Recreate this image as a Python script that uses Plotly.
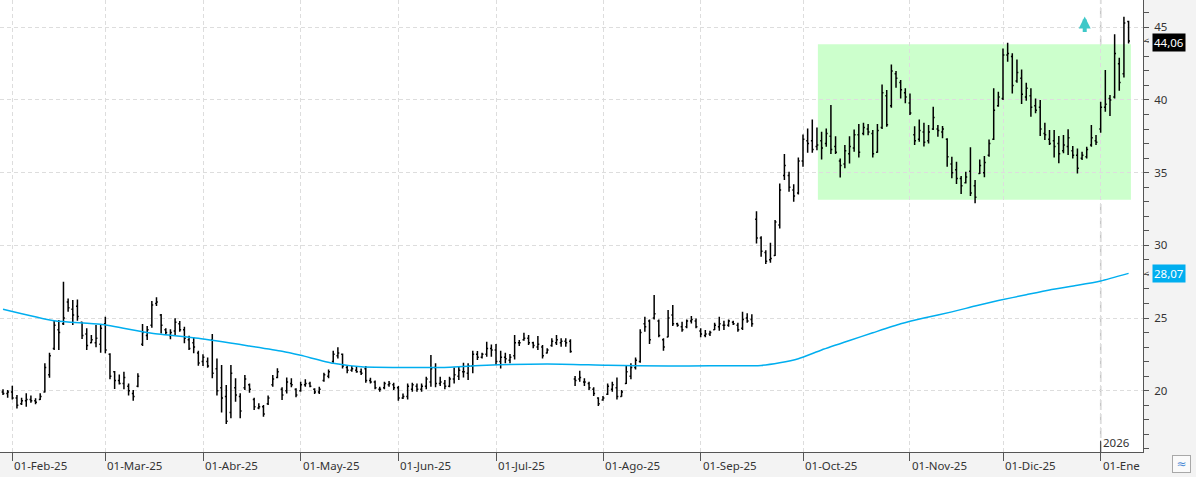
import plotly.graph_objects as go
import pandas as pd

# ---------------- data ----------------
holidays = ["2025-04-18", "2025-05-01", "2025-12-25", "2025-12-26", "2026-01-01"]
dates = [d.strftime("%Y-%m-%d") for d in pd.bdate_range("2025-01-30", "2026-01-12")
         if d.strftime("%Y-%m-%d") not in holidays]

opens = [
    19.9, 19.8, 19.9, 19.5, 19.1, 19.3, 19.4, 19.3, 19.4, 19.9,
    21.1, 22.9, 24.2, 24.6, 26.1, 25.6, 25.8, 24.7, 23.9, 23.3,
    23.3, 23.2, 24.6, 22.5, 21.3, 20.7, 20.5, 20.3, 19.8, 20.3,
    23.2, 23.8, 24.5, 26.0, 25.2, 24.2, 23.8, 24.1, 24.6, 24.2,
    23.5, 23.3, 22.6, 22.0, 22.0, 23.5, 21.5, 20.2, 19.6, 18.5,
    20.2, 19.6, 20.2, 20.4, 19.4, 18.8, 18.9, 19.1, 20.4, 20.9,
    20.1, 20.0, 20.5, 20.1, 20.0, 20.4, 20.5, 20.1, 19.9, 20.7,
    21.0, 22.0, 22.4, 22.5, 21.6, 21.4, 21.4, 21.3, 21.5, 20.7,
    20.6, 20.1, 20.2, 20.4, 20.4, 20.2, 19.5, 19.6, 20.1, 20.3,
    20.1, 20.3, 20.6, 21.6, 20.5, 20.5, 20.3, 20.8, 21.0, 21.3,
    21.2, 21.7, 22.5, 22.3, 22.5, 22.9, 22.8, 22.0, 22.3, 22.1,
    22.4, 23.3, 23.5, 23.6, 23.3, 23.0, 23.0, 22.6, 23.1, 23.3,
    23.3, 23.4, 23.4, 20.8, 20.8, 20.6, 20.5, 20.1, 19.5, 19.35,
    19.75, 20.1, 20.2, 19.6, 20.5, 21.0, 21.6, 22.0, 24.6, 24.8,
    25.0, 24.8, 23.5, 23.7, 25.2, 24.6, 24.4, 24.4, 24.8, 24.8,
    24.1, 23.8, 23.9, 24.2, 24.4, 24.5, 24.5, 24.7, 24.5, 24.3,
    25.0, 24.9, 31.8, 30.5, 29.5, 29.0, 29.3, 31.4, 34.8, 34.8,
    33.8, 33.6, 35.8, 37.2, 37.2, 36.8, 37.2, 37.0, 37.5, 36.8,
    35.8, 35.6, 36.3, 36.7, 37.6, 37.7, 38.0, 37.7, 36.4, 38.1,
    40.3, 39.6, 41.8, 41.2, 40.5, 39.8, 37.6, 37.3, 37.8, 37.2,
    38.0, 38.0, 37.8, 37.3, 35.6, 35.2, 34.6, 34.3, 35.1, 34.1,
    34.95, 35.0, 36.2, 37.3, 39.6, 40.1, 43.1, 43.0, 41.3, 41.5,
    40.2, 40.3, 39.6, 39.5, 37.7, 37.3, 37.2, 37.0, 36.5, 36.8,
    36.5, 36.2, 36.0, 36.1, 36.9, 37.2, 38.0, 39.5, 40.1, 40.2,
    42.5, 41.8, 45.4,
]
highs = [
    20.09, 20.05, 20.34, 19.70, 19.52, 19.82, 19.66, 19.47, 19.82, 21.88,
    22.61, 24.81, 24.86, 27.50, 26.35, 26.24, 26.28, 24.75, 24.29, 23.83,
    24.52, 24.52, 25.09, 22.57, 21.35, 21.12, 21.31, 20.50, 20.05, 21.19,
    24.59, 24.45, 26.17, 26.42, 25.27, 24.29, 24.22, 24.98, 24.79, 24.40,
    23.78, 23.67, 22.75, 22.50, 22.29, 23.90, 22.22, 21.77, 20.39, 21.77,
    20.85, 19.82, 21.08, 20.50, 19.52, 19.13, 19.01, 19.66, 21.08, 21.54,
    20.23, 20.90, 20.85, 20.16, 20.62, 20.78, 20.62, 20.16, 20.27, 21.24,
    21.46, 22.75, 22.98, 22.56, 21.69, 21.69, 21.65, 21.53, 21.69, 20.89,
    20.70, 20.27, 20.62, 20.66, 20.55, 20.32, 19.81, 20.50, 20.55, 20.50,
    20.50, 20.96, 22.45, 21.88, 20.96, 20.73, 20.96, 21.60, 21.69, 21.92,
    21.88, 22.75, 22.73, 22.61, 23.37, 23.18, 23.21, 22.75, 22.61, 22.52,
    23.83, 23.48, 23.99, 23.83, 23.37, 23.76, 23.14, 22.91, 23.60, 23.83,
    23.60, 23.60, 23.53, 21.01, 21.37, 20.85, 20.62, 20.23, 19.54, 19.63,
    20.50, 20.62, 20.91, 20.04, 21.69, 21.88, 22.29, 24.22, 25.09, 24.90,
    26.58, 24.90, 23.60, 25.55, 25.89, 24.68, 24.74, 24.90, 25.13, 24.97,
    24.29, 24.17, 24.13, 24.68, 25.09, 24.81, 24.90, 24.81, 24.68, 25.43,
    25.32, 25.25, 32.35, 30.63, 29.67, 30.18, 31.74, 34.26, 36.28, 35.06,
    34.21, 36.05, 37.63, 38.04, 38.66, 38.11, 37.81, 38.04, 39.65, 37.51,
    35.98, 36.90, 37.51, 37.97, 38.34, 38.43, 38.34, 37.93, 38.34, 41.07,
    40.68, 42.45, 41.99, 41.37, 40.80, 40.45, 38.20, 38.66, 38.43, 38.28,
    39.54, 38.28, 38.21, 37.36, 36.10, 35.75, 34.77, 35.06, 36.74, 34.49,
    35.91, 36.14, 37.29, 40.80, 40.57, 43.55, 43.94, 43.21, 42.79, 42.10,
    41.19, 40.80, 40.11, 40.00, 38.44, 37.93, 37.93, 37.52, 37.59, 37.98,
    36.83, 36.67, 36.44, 36.78, 38.28, 37.59, 39.88, 42.06, 40.34, 44.53,
    42.90, 45.72, 45.45,
]
lows = [
    19.70, 19.52, 19.40, 18.78, 19.01, 18.90, 19.17, 19.06, 19.36, 19.88,
    20.89, 22.80, 22.80, 24.52, 25.43, 24.52, 24.81, 23.55, 22.80, 23.26,
    22.98, 22.61, 22.57, 20.78, 20.11, 20.43, 20.09, 19.66, 19.31, 20.23,
    23.07, 23.48, 24.33, 25.82, 23.94, 23.83, 23.53, 23.83, 24.06, 23.26,
    22.80, 22.57, 21.72, 21.70, 21.58, 20.85, 19.66, 18.49, 17.70, 18.10,
    19.24, 18.10, 20.05, 19.86, 18.67, 18.72, 18.21, 19.01, 20.27, 20.85,
    19.36, 19.80, 20.23, 19.54, 19.93, 20.27, 20.23, 19.77, 19.77, 20.62,
    20.85, 21.92, 22.22, 21.53, 21.19, 21.30, 21.24, 21.07, 20.55, 20.50,
    20.10, 19.93, 20.09, 20.27, 20.04, 19.31, 19.42, 19.40, 19.93, 19.93,
    19.93, 20.09, 20.27, 20.23, 20.32, 20.09, 20.23, 20.50, 20.73, 20.91,
    20.73, 21.19, 22.11, 22.22, 22.34, 22.34, 21.76, 21.53, 21.88, 21.88,
    22.15, 23.07, 23.44, 23.14, 22.91, 22.79, 22.22, 22.56, 23.02, 23.14,
    23.02, 23.02, 22.61, 20.32, 20.62, 20.32, 20.04, 19.63, 18.94, 19.31,
    19.70, 19.93, 19.40, 19.58, 20.46, 20.78, 21.46, 21.92, 24.06, 23.21,
    24.90, 23.67, 22.75, 23.67, 24.45, 24.40, 24.06, 24.30, 24.63, 24.29,
    23.67, 23.67, 23.76, 24.17, 24.13, 24.17, 24.40, 24.52, 24.06, 24.17,
    24.68, 24.40, 30.13, 29.21, 28.71, 28.80, 29.26, 31.16, 34.49, 33.68,
    33.00, 33.50, 35.40, 36.37, 36.37, 36.55, 35.91, 36.78, 36.28, 36.28,
    34.67, 35.30, 35.63, 36.44, 36.05, 37.58, 37.58, 36.05, 36.37, 38.00,
    38.16, 39.47, 40.84, 40.11, 39.77, 38.96, 36.90, 37.12, 36.80, 37.01,
    37.93, 37.47, 37.36, 35.41, 34.61, 34.22, 33.53, 34.26, 33.39, 32.89,
    34.90, 34.68, 36.10, 37.24, 39.54, 40.00, 42.63, 40.45, 41.19, 39.72,
    39.95, 38.85, 39.08, 37.52, 37.24, 36.90, 36.05, 35.64, 36.33, 36.21,
    35.98, 34.95, 35.87, 35.98, 36.78, 36.90, 37.75, 39.19, 38.89, 40.11,
    40.64, 41.55, 43.89,
]
closes = [
    19.8, 19.9, 19.5, 19.0, 19.3, 19.4, 19.3, 19.2, 19.6, 21.6,
    22.4, 24.5, 24.0, 25.0, 25.7, 25.2, 25.1, 23.8, 23.1, 23.5,
    23.6, 24.3, 22.8, 21.0, 20.7, 20.5, 20.9, 20.0, 19.6, 21.0,
    24.0, 24.2, 25.9, 26.1, 24.5, 24.0, 24.0, 24.7, 24.2, 23.6,
    22.9, 23.0, 21.9, 22.3, 21.7, 21.2, 20.0, 19.5, 17.9, 21.2,
    19.7, 18.6, 20.8, 20.1, 18.9, 18.9, 18.4, 19.5, 20.8, 21.3,
    19.7, 20.6, 20.4, 19.7, 20.4, 20.5, 20.3, 19.9, 20.1, 21.1,
    21.3, 22.5, 22.6, 21.7, 21.4, 21.5, 21.3, 21.2, 20.7, 20.6,
    20.2, 20.1, 20.5, 20.5, 20.2, 19.5, 19.6, 20.3, 20.4, 20.1,
    20.3, 20.8, 21.5, 20.5, 20.6, 20.3, 20.8, 21.1, 21.4, 21.3,
    21.7, 22.5, 22.3, 22.5, 22.9, 22.8, 22.0, 22.3, 22.2, 22.3,
    23.3, 23.3, 23.6, 23.3, 23.1, 23.2, 22.4, 22.8, 23.4, 23.5,
    23.4, 23.3, 22.7, 20.7, 20.9, 20.6, 20.2, 19.8, 19.1, 19.5,
    20.3, 20.4, 19.6, 19.9, 21.3, 21.6, 22.1, 24.0, 24.4, 23.5,
    25.3, 23.8, 23.0, 25.0, 24.6, 24.5, 24.2, 24.8, 24.9, 24.4,
    23.9, 23.9, 24.0, 24.5, 24.6, 24.5, 24.8, 24.6, 24.2, 24.9,
    24.8, 24.6, 30.5, 29.6, 28.9, 29.1, 31.6, 33.8, 35.5, 34.0,
    33.4, 35.8, 37.3, 37.0, 36.6, 36.9, 36.7, 37.7, 36.6, 36.4,
    35.5, 36.5, 36.8, 37.6, 36.4, 38.1, 37.8, 36.3, 37.9, 40.5,
    38.3, 42.0, 41.5, 40.7, 40.2, 39.1, 37.2, 37.9, 37.1, 37.8,
    38.8, 37.9, 38.0, 36.1, 35.0, 34.6, 34.1, 34.7, 33.6, 33.3,
    35.5, 35.7, 37.0, 39.3, 40.2, 43.1, 43.2, 41.0, 41.9, 40.4,
    40.8, 39.5, 39.3, 38.0, 37.6, 37.0, 36.8, 36.3, 36.9, 37.4,
    36.2, 35.3, 36.2, 36.6, 37.4, 37.1, 39.5, 39.7, 40.0, 43.2,
    41.2, 45.3, 44.06,
]

# moving average line, read at sample sessions (index into dates)
ma_idx = [0, 11, 21, 32, 42, 53, 60, 64, 71, 77, 94, 104, 117, 130, 143, 152,
          163, 167, 171, 176, 182, 187, 193, 198, 204, 209, 214, 220, 225, 231, 236, 242]
ma_values = [25.6, 24.81, 24.57, 23.95, 23.6, 23.07, 22.71, 22.43, 21.88, 21.65,
             21.6, 21.75, 21.84, 21.75, 21.69, 21.72, 21.74, 21.92, 22.2, 22.8,
             23.45, 23.98, 24.6, 25.0, 25.42, 25.82, 26.2, 26.6, 26.93, 27.25, 27.55, 28.07]

tick_dates = ["2025-02-03", "2025-03-03", "2025-04-01", "2025-05-02", "2025-06-02",
              "2025-07-01", "2025-08-01", "2025-09-01", "2025-10-01", "2025-11-03",
              "2025-12-01", "2026-01-02"]
tick_labels = ["01-Feb-25", "01-Mar-25", "01-Abr-25", "01-May-25", "01-Jun-25",
               "01-Jul-25", "01-Ago-25", "01-Sep-25", "01-Oct-25", "01-Nov-25",
               "01-Dic-25", "01-Ene"]
year_date = "2026-01-02"
year_label = "2026"

box_start = "2025-10-06"
box_end = "2026-01-12"
box_low = 33.14
box_high = 43.84

signal_date = "2025-12-29"
signal_price = 45.75

assert len(dates) == len(opens) == len(highs) == len(lows) == len(closes)

FONT = "Noto Sans"

fig = go.Figure()
fig.add_trace(go.Ohlc(
    x=dates, open=opens, high=highs, low=lows, close=closes,
    increasing=dict(line=dict(color="#000000", width=1.5)),
    decreasing=dict(line=dict(color="#000000", width=1.5)),
    tickwidth=0.3, hoverinfo="skip", showlegend=False,
))
fig.add_trace(go.Scatter(
    x=[dates[i] for i in ma_idx], y=ma_values, mode="lines",
    line=dict(color="#00aeef", width=1.5, shape="spline", smoothing=0.6),
    hoverinfo="skip", showlegend=False,
))

ix = {d: i for i, d in enumerate(dates)}
shapes = [
    dict(type="rect", xref="x", yref="y", x0=ix[box_start] + 0.2, x1=ix[box_end] + 0.5,
         y0=box_low, y1=box_high, fillcolor="#ccffcc", line=dict(width=0), layer="below"),
    dict(type="line", xref="x", yref="paper", x0=ix[year_date], x1=ix[year_date], y0=0, y1=1,
         line=dict(color="#c6c6c6", width=1.5, dash="10px,4px"), layer="below"),
    dict(type="line", xref="x", yref="paper", x0=ix[year_date], x1=ix[year_date], y0=0, y1=0.025,
         line=dict(color="#333333", width=1)),
]

annotations = []
for d, lab in zip(tick_dates, tick_labels):
    annotations.append(dict(x=d, y=0, xref="x", yref="paper", text=lab, showarrow=False,
                            xanchor="left", yanchor="top", xshift=0, yshift=-4,
                            font=dict(family=FONT, size=11.5, color="#333333")))
annotations.append(dict(x=year_date, y=0, xref="x", yref="paper", text=year_label, showarrow=False,
                        xanchor="left", yanchor="bottom", xshift=0, yshift=0,
                        font=dict(family=FONT, size=11.5, color="#333333")))
last_txt = f"{closes[-1]:.2f}".replace(".", ",")
ma_txt = f"{ma_values[-1]:.2f}".replace(".", ",")
annotations.append(dict(x=1, y=closes[-1], xref="paper", yref="y", text=last_txt, showarrow=False,
                        xanchor="left", yanchor="middle", xshift=9, yshift=-1.5, bgcolor="#000000",
                        borderpad=1, font=dict(family=FONT, size=11.5, color="#ffffff")))
annotations.append(dict(x=1, y=ma_values[-1], xref="paper", yref="y", text=ma_txt, showarrow=False,
                        xanchor="left", yanchor="middle", xshift=9, bgcolor="#00aeef", borderpad=1,
                        font=dict(family=FONT, size=11.5, color="#ffffff")))
for yv in (closes[-1], ma_values[-1]):
    annotations.append(dict(x=1, y=yv, xref="paper", yref="y", text="<", showarrow=False,
                            xanchor="left", yanchor="middle", xshift=-1,
                            font=dict(family=FONT, size=9, color="#555555")))
annotations.append(dict(x=signal_date, y=signal_price, xref="x", yref="y", text="", showarrow=True,
                        ax=0, ay=17, arrowhead=2, arrowsize=0.6, arrowwidth=4, arrowcolor="#3ec8c8",
                        standoff=0, xshift=-2))
annotations.append(dict(x=1, y=0, xref="paper", yref="paper", text="≈", showarrow=False,
                        xanchor="left", yanchor="top", xshift=29, yshift=-3, width=15, height=14,
                        bordercolor="#a8a8a8", borderwidth=1, bgcolor="#fafafa",
                        font=dict(family="DejaVu Sans", size=12, color="#4d8bd6")))

fig.update_layout(
    width=1196, height=477,
    margin=dict(l=0, r=53, t=0, b=25),
    paper_bgcolor="#f3f3f3", plot_bgcolor="#ffffff",
    showlegend=False,
    shapes=shapes, annotations=annotations,
    xaxis=dict(type="category", categoryorder="array", categoryarray=dates,
               range=[-0.645, 245.1], rangeslider=dict(visible=False),
               tickmode="array", tickvals=tick_dates, showticklabels=False,
               ticks="outside", ticklen=8, tickcolor="#555555",
               showgrid=True, gridcolor="#dddddd", griddash="4px,3px", gridwidth=1,
               showline=True, linecolor="#555555", linewidth=1, zeroline=False),
    yaxis=dict(side="right", range=[15.78, 46.88], tick0=0, dtick=5,
               ticks="outside", ticklen=5, tickcolor="#555555",
               showgrid=True, gridcolor="#dddddd", griddash="4px,3px", gridwidth=1,
               showline=True, linecolor="#555555", linewidth=1, zeroline=False,
               tickfont=dict(family=FONT, size=11.5, color="#333333"), ticklabelstandoff=3,
               minor=dict(dtick=1, ticks="outside", ticklen=5, tickcolor="#555555", showgrid=False)),
)

fig.write_html("out.html")
